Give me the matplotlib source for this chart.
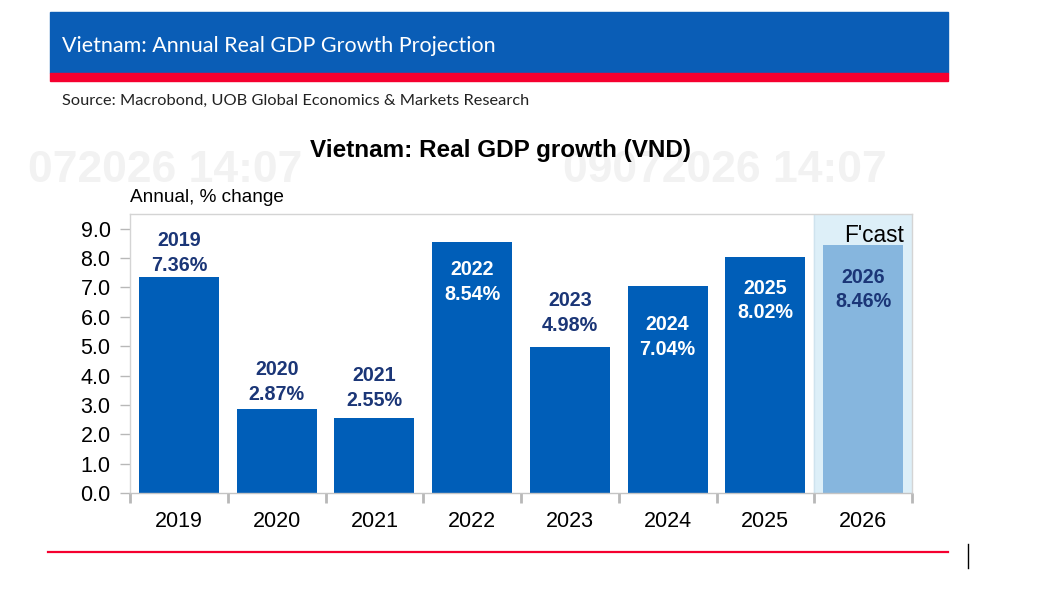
import numpy as np
import matplotlib
matplotlib.use('Agg')
import matplotlib.pyplot as plt
from matplotlib.patches import Rectangle
from matplotlib.lines import Line2D

years = ['2019', '2020', '2021', '2022', '2023', '2024', '2025', '2026']
growth = [7.36, 2.87, 2.55, 8.54, 4.98, 7.04, 8.02, 8.46]
forecast = [False, False, False, False, False, False, False, True]
yticks = [0, 1, 2, 3, 4, 5, 6, 7, 8, 9]
# vertical offset (pixels) of each value label's centre from the bar top
label_dy = [24, 27, 30, -40, 34, -51, -43, -45]

W, H = 1060, 593
blue = '#005EB8'
fc_blue = '#86B6DE'
navy = '#1B3677'
red = '#F5002F'

plt.rcParams['font.family'] = ['Liberation Sans', 'DejaVu Sans']
fig = plt.figure(figsize=(W / 100, H / 100), dpi=100)
fig.patch.set_facecolor('white')


def fx(px):
    return px / W


def fy(py):
    return 1 - py / H


# header band + red stripe
fig.add_artist(Rectangle((fx(50), fy(73)), fx(948) - fx(50), fy(12) - fy(73),
                         transform=fig.transFigure, color='#0A5DB6', zorder=0))
fig.add_artist(Rectangle((fx(50), fy(81)), fx(948) - fx(50), fy(73) - fy(81),
                         transform=fig.transFigure, color=red, zorder=0))
fig.text(fx(62), fy(46), 'Vietnam: Annual Real GDP Growth Projection', color='white',
         fontsize=15.5, family='Lato', va='center', ha='left')
fig.text(fx(62), fy(101), 'Source: Macrobond, UOB Global Economics & Markets Research',
         color='#222222', fontsize=11.75, family='Lato', va='center', ha='left')

# faint watermark stamps
fig.text(fx(28), fy(170), '072026 14:07', color='#f2f2f2', fontsize=32,
         fontweight='bold', va='center', ha='left', zorder=0)
fig.text(fx(563), fy(170), '09072026 14:07', color='#f2f2f2', fontsize=32,
         fontweight='bold', va='center', ha='left', zorder=0)

fig.text(fx(501), fy(151), 'Vietnam: Real GDP growth (VND)', fontsize=17.5,
         fontweight='bold', ha='center', va='center')

ax = fig.add_axes([fx(130), fy(493), fx(912) - fx(130), fy(214) - fy(493)])
ax.set_facecolor('none')
x = np.arange(len(years))
colors = [fc_blue if f else blue for f in forecast]

# forecast shading
fc_start = forecast.index(True) - 0.5
ax.axvspan(fc_start, len(years) - 0.5, color='#DDEFF8', zorder=0)
ax.axvline(fc_start, color='#cfe3ee', lw=1, zorder=0.5)

ax.bar(x, growth, width=0.82, color=colors, zorder=2)

for xi, (yr, v, dy) in enumerate(zip(years, growth, label_dy)):
    inside = dy < 0
    col = 'white' if inside and not forecast[xi] else navy
    ax.annotate(f'{yr}\n{v:.2f}%', (xi, v), xytext=(0, dy * 0.72),
                textcoords='offset points', ha='center', va='center',
                fontsize=14.2, fontweight='bold', color=col,
                linespacing=1.38, zorder=3)

ax.text(len(years) - 0.5 - 0.08, 8.78, "F'cast", fontsize=16.3, ha='right',
        va='center', zorder=3)

ax.set_xlim(-0.5, len(years) - 0.5)
ax.set_ylim(0, 9.5)
ax.set_yticks(yticks)
ax.set_yticklabels([f'{t:.1f}' for t in yticks])
ax.set_xticks(x)
ax.set_xticklabels(years)
ax.set_xticks(np.arange(-0.5, len(years)), minor=True)
ax.tick_params(axis='x', which='major', length=0, labelsize=15.5, pad=13)
ax.tick_params(axis='x', which='minor', length=7, width=2, color='#b8b8b8')
ax.tick_params(axis='y', length=7, width=1, color='#b8b8b8', labelsize=15.5, pad=7)
for s in ax.spines.values():
    s.set_color('#d4d4d4')
    s.set_linewidth(1)
ax.spines['bottom'].set_color('#c4c4c4')

ax.text(0, 1.058, 'Annual, % change', transform=ax.transAxes, fontsize=13.7,
        ha='left', va='center')

# bottom rule and cursor mark
fig.add_artist(Line2D([fx(48), fx(948)], [fy(552), fy(552)], color=red, lw=1.6,
                      transform=fig.transFigure))
fig.add_artist(Line2D([fx(968), fx(968)], [fy(544), fy(568)], color='black', lw=1,
                      transform=fig.transFigure))

fig.savefig('out.png', dpi=100)
